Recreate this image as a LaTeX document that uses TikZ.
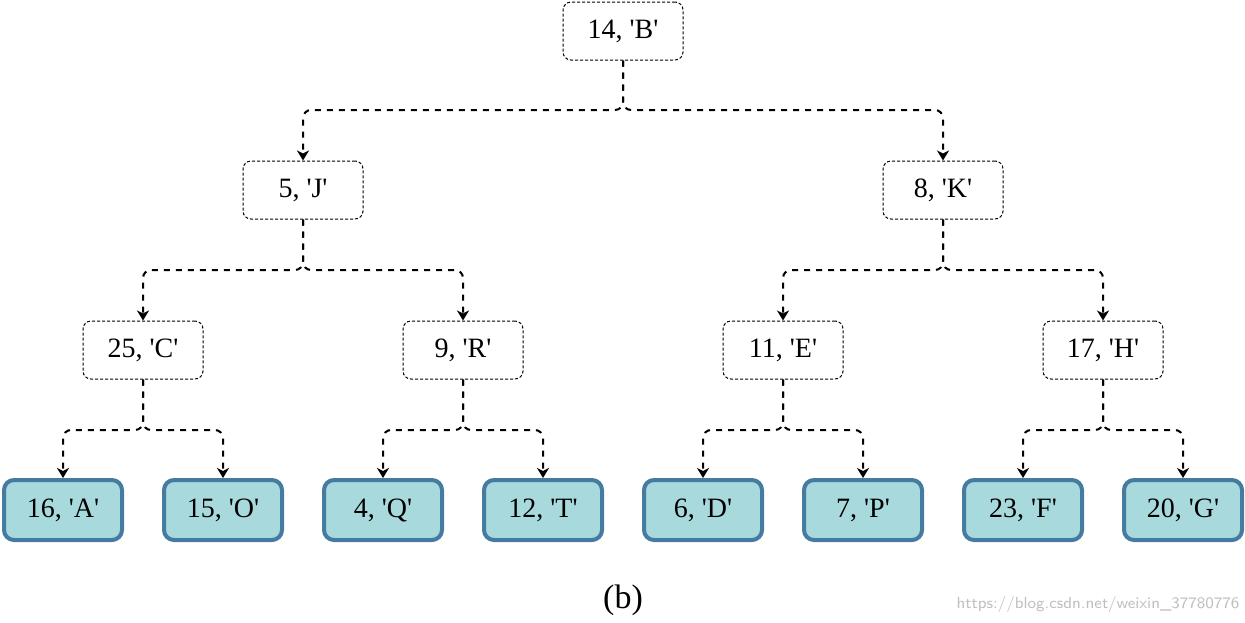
\documentclass[tikz,border=0pt]{standalone}
\usepackage{fontspec}
\setmainfont{Liberation Serif}
\usetikzlibrary{arrows.meta,positioning}

\definecolor{leaffill}{HTML}{A8D9DC}
\definecolor{leafline}{HTML}{457BA0}
\newcommand{\sq}{\textquotesingle}

\begin{document}
\begin{tikzpicture}[
  x=0.5pt, y=-0.5pt,
  box/.style={draw, dash pattern=on 1.5pt off 1pt, line width=0.5pt, rounded corners=4pt,
    minimum width=60pt, minimum height=29pt, font=\fontsize{14}{16}\selectfont},
  leaf/.style={draw=leafline, line width=2pt, fill=leaffill, rounded corners=5pt,
    minimum width=59pt, minimum height=30pt, font=\fontsize{14}{16}\selectfont},
  link/.style={-{Stealth[length=5pt, width=6pt, inset=1.5pt]}, dashed, line width=1pt, rounded corners=4pt}
]
\useasboundingbox (0,0) rectangle (1245,622);

% tree nodes
\node[box] (b) at (623,31) {14, \sq{}B\sq};
\node[box] (j) at (303,190) {5, \sq{}J\sq};
\node[box] (k) at (943,190) {8, \sq{}K\sq};
\node[box] (c) at (143,350) {25, \sq{}C\sq};
\node[box] (r) at (463,350) {9, \sq{}R\sq};
\node[box] (e) at (783,350) {11, \sq{}E\sq};
\node[box] (h) at (1103,350) {17, \sq{}H\sq};

% leaves
\node[leaf] (a) at (63,510) {16, \sq{}A\sq};
\node[leaf] (o) at (223,510) {15, \sq{}O\sq};
\node[leaf] (q) at (383,510) {4, \sq{}Q\sq};
\node[leaf] (t) at (543,510) {12, \sq{}T\sq};
\node[leaf] (d) at (703,510) {6, \sq{}D\sq};
\node[leaf] (p) at (863,510) {7, \sq{}P\sq};
\node[leaf] (f) at (1023,510) {23, \sq{}F\sq};
\node[leaf] (g) at (1183,510) {20, \sq{}G\sq};

% connectors
\foreach \up/\kidl/\kidr/\yy in {b/j/k/110, j/c/r/270, k/e/h/270,
    c/a/o/430, r/q/t/430, e/d/p/430, h/f/g/430} {
  \coordinate (bar) at (0,\yy);
  \draw[link] (\up.south) -- (\up.south |- bar) -| (\kidl.north);
  \draw[link] (\up.south) -- (\up.south |- bar) -| (\kidr.north);
}

\node[font=\fontsize{17}{19}\selectfont] (cap) at (623,600) {(b)};
\node[font=\fontsize{8}{10}\selectfont\sffamily, text=black!25] (mark) at (1098,604) {https://blog.csdn.net/weixin\_37780776};
\end{tikzpicture}
\end{document}
